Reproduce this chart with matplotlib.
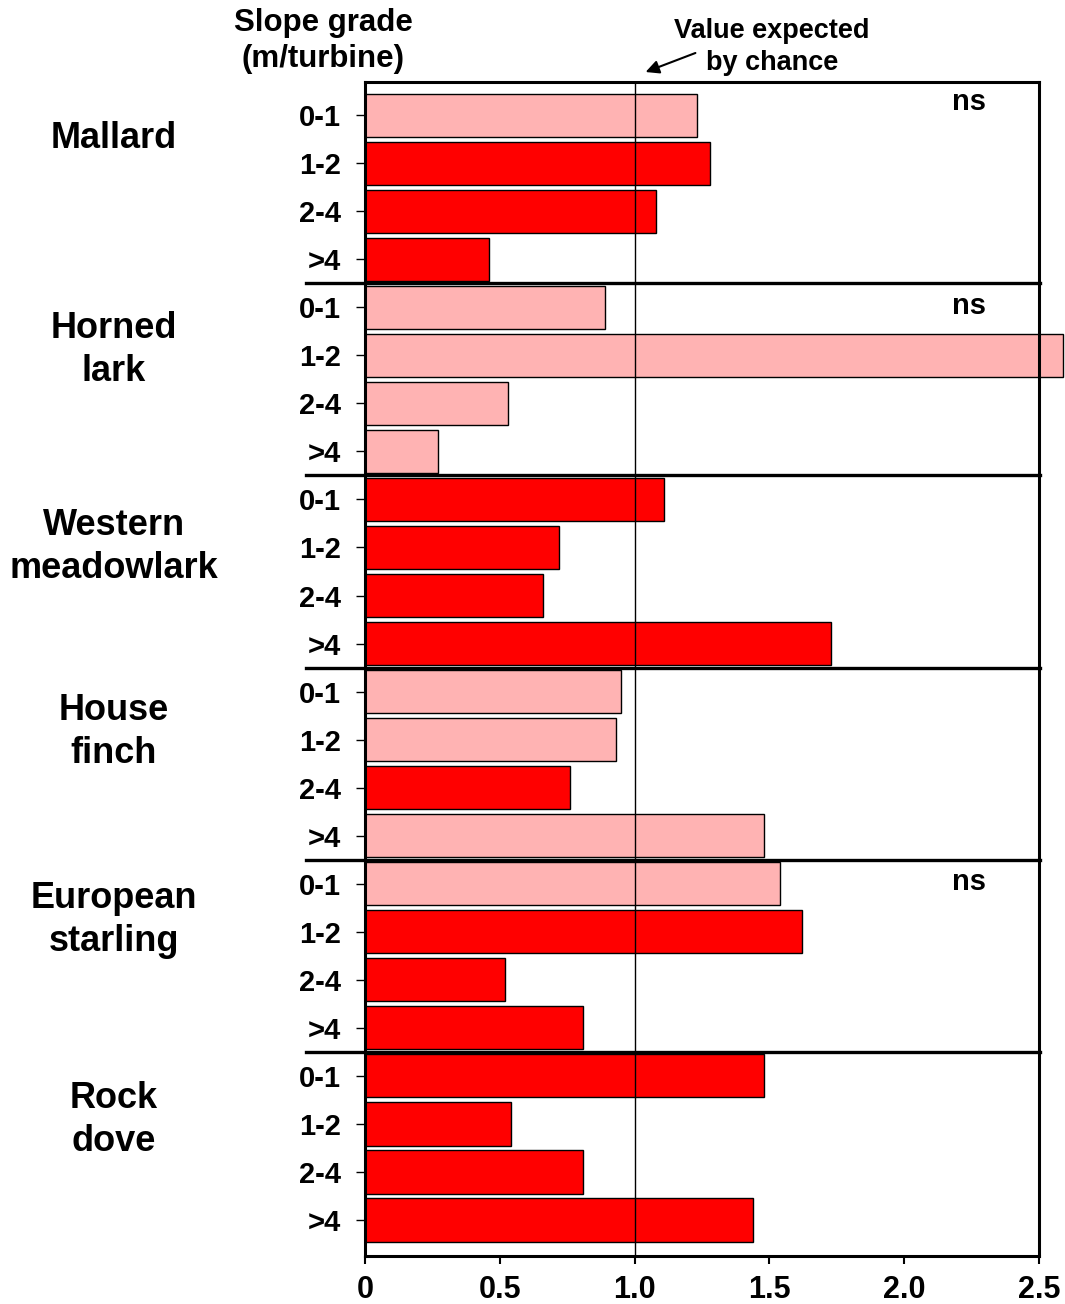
import matplotlib
matplotlib.use("Agg")
import matplotlib.pyplot as plt
import numpy as np

plt.rcParams['font.family'] = ['Liberation Sans', 'DejaVu Sans']
plt.rcParams['font.weight'] = 'bold'

species = ["Mallard", "Horned\nlark", "Western\nmeadowlark", "House\nfinch", "European\nstarling", "Rock\ndove"]
grades = ["0-1", "1-2", "2-4", ">4"]
values = {
    "Mallard":            [1.23, 1.28, 1.08, 0.46],
    "Horned lark":        [0.89, 2.59, 0.53, 0.27],
    "Western meadowlark": [1.11, 0.72, 0.66, 1.73],
    "House finch":        [0.95, 0.93, 0.76, 1.48],
    "European starling":  [1.54, 1.62, 0.52, 0.81],
    "Rock dove":          [1.48, 0.54, 0.81, 1.44],
}
# True = significant (red), False = not significant (light pink)
significant = {
    "Mallard":            [False, True, True, True],
    "Horned lark":        [False, False, False, False],
    "Western meadowlark": [True, True, True, True],
    "House finch":        [False, False, True, False],
    "European starling":  [False, True, True, True],
    "Rock dove":          [True, True, True, True],
}
ns_groups = ["Mallard", "Horned lark", "European starling"]
x_ticks = [0, 0.5, 1.0, 1.5, 2.0, 2.5]
x_ticklabels = ["0", "0.5", "1.0", "1.5", "2.0", "2.5"]

RED = "#FF0000"
PINK = "#FFB3B3"

W, H = 1065, 1304
fig = plt.figure(figsize=(W / 100, H / 100), dpi=100)
ax = fig.add_axes([365 / W, 1 - 1256 / H, (1039 - 365) / W, (1256 - 82) / H])

keys = list(values.keys())
ypos = []
vals = []
cols = []
labels = []
for gi, k in enumerate(keys):
    for j in range(4):
        ypos.append(gi * 4 + j)
        vals.append(values[k][j])
        cols.append(RED if significant[k][j] else PINK)
        labels.append(grades[j])

bars = ax.barh(ypos, vals, height=0.9, color=cols, edgecolor="black", linewidth=1.0, zorder=2)
for b in bars:
    b.set_clip_on(False)

ax.set_xlim(0, 2.5)
ax.set_ylim(23.75, -0.69)

ax.axvline(1.0, color="black", linewidth=1.0, zorder=3)

for gi in range(1, 6):
    yb = gi * 4 - 0.5
    ax.plot([-0.22, 2.505], [yb, yb], color="black", linewidth=2.4, clip_on=False, zorder=4)

ax.set_yticks(ypos)
ax.set_yticklabels(labels, fontsize=21, fontweight="bold")
ax.set_xticks(x_ticks)
ax.set_xticklabels(x_ticklabels, fontsize=22, fontweight="bold")
ax.tick_params(axis="y", direction="out", length=6.5, width=1.0, pad=11)
ax.tick_params(axis="x", direction="out", length=6, width=1.5, pad=8)

for s in ["left", "right", "top", "bottom"]:
    ax.spines[s].set_linewidth(2.2)
    ax.spines[s].set_zorder(5)

# ns annotations
ns_y = {"Mallard": -0.27, "Horned lark": 3.98, "European starling": 15.97}
for k in ns_groups:
    ax.text(2.24, ns_y[k], "ns", fontsize=21, fontweight="bold", ha="center", va="center")

# species labels
label_y = [138, 350, 547, 732, 920, 1120]
for name, yy in zip(species, label_y):
    fig.text(114 / W, 1 - yy / H, name, fontsize=26, fontweight="bold",
             ha="center", va="center", linespacing=1.3)

fig.text(323 / W, 1 - 41 / H, "Slope grade\n(m/turbine)", fontsize=22.5, fontweight="bold",
         ha="center", va="center", linespacing=1.3)
fig.text(772 / W, 1 - 47 / H, "Value expected\nby chance", fontsize=19.5, fontweight="bold",
         ha="center", va="center", linespacing=1.3)
fig.patches.append(matplotlib.patches.FancyArrowPatch(
    (698 / W, 1 - 52 / H), (643 / W, 1 - 73 / H), transform=fig.transFigure,
    arrowstyle="-|>,head_length=8,head_width=4", color="black", linewidth=1.5))

fig.savefig("out.png", dpi=100)
